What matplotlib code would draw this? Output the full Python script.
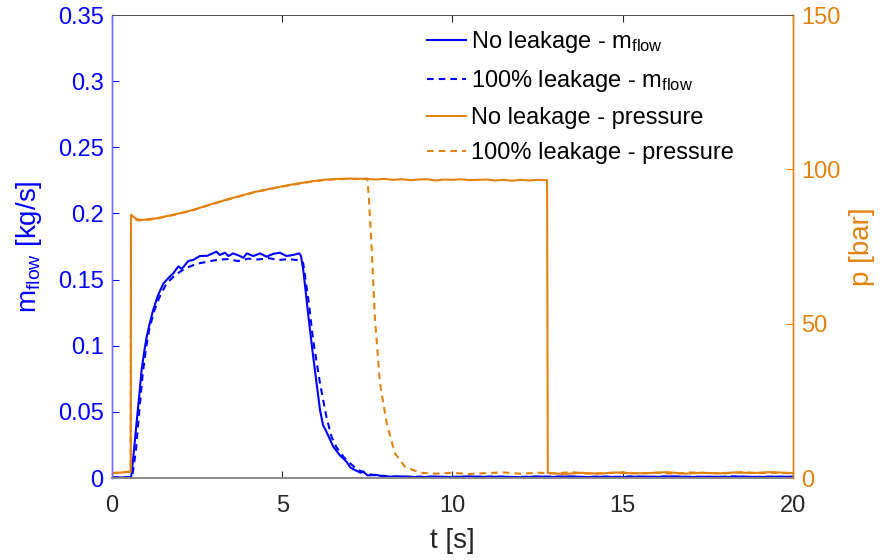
import matplotlib
matplotlib.use("Agg")
import matplotlib.pyplot as plt
from matplotlib.lines import Line2D

plt.rcParams['font.family'] = ['Liberation Sans', 'DejaVu Sans']
plt.rcParams['mathtext.fontset'] = 'custom'
plt.rcParams['mathtext.rm'] = 'Liberation Sans'
plt.rcParams['mathtext.it'] = 'Liberation Sans'

BLUE = '#0000ff'
ORANGE = '#e3820f'

# Mass flow, no leakage [s], [kg/s]
t_flow_ref = [0.0, 0.3, 0.56, 0.58, 0.65, 0.72, 0.8, 0.87, 0.95, 1.02, 1.1, 1.21, 1.35,
              1.51, 1.65, 1.8, 1.95, 2.05, 2.24, 2.4, 2.58, 2.8, 3.07, 3.17, 3.32, 3.42,
              3.56, 3.76, 3.86, 3.96, 4.15, 4.35, 4.54, 4.74, 4.93, 5.13, 5.32, 5.5,
              5.55, 5.62, 5.77, 5.91, 6.11, 6.2, 6.3, 6.5, 6.7, 6.89, 7.0, 7.14, 7.3,
              7.38, 7.5, 7.77, 8.0, 8.5, 9.0, 9.5, 10.0, 10.5, 11.0, 11.5, 12.0, 12.5,
              13.0, 13.5, 14.0, 14.5, 15.0, 15.5, 16.0, 16.5, 17.0, 17.5, 18.0, 18.5,
              19.0, 19.5, 20.0]
m_flow_ref = [0.0005, 0.0004, 0.0005, 0.004, 0.022, 0.041, 0.062, 0.0816, 0.096, 0.1068,
              0.116, 0.127, 0.138, 0.147, 0.151, 0.1547, 0.160, 0.158, 0.164, 0.165,
              0.1678, 0.168, 0.1711, 0.1686, 0.1703, 0.1678, 0.1698, 0.1678, 0.1665,
              0.1698, 0.1678, 0.1698, 0.1673, 0.1695, 0.1703, 0.1678, 0.1686, 0.1698,
              0.168, 0.157, 0.122, 0.0917, 0.0514, 0.040, 0.035, 0.0237, 0.017, 0.0123,
              0.008, 0.006, 0.004, 0.005, 0.002, 0.0023, 0.001, 0.0012, 0.0006, 0.0011,
              0.0007, 0.0012, 0.0008, 0.0010, 0.0006, 0.0011, 0.0008, 0.0012, 0.0007,
              0.0010, 0.0006, 0.0011, 0.0009, 0.0012, 0.0007, 0.0010, 0.0008, 0.0011,
              0.0007, 0.0010, 0.0009]

# Mass flow, 100% leakage
t_flow_leak = [0.0, 0.3, 0.58, 0.6, 0.7, 0.8, 0.9, 1.0, 1.1, 1.25, 1.4, 1.6, 1.8, 2.0,
               2.2, 2.5, 2.8, 3.1, 3.4, 3.7, 4.0, 4.3, 4.6, 4.9, 5.2, 5.5, 5.58, 5.62,
               5.77, 5.91, 6.11, 6.3, 6.45, 6.6, 6.8, 7.0, 7.2, 7.5, 7.8, 8.2, 8.7, 9.2,
               9.7, 10.2, 10.7, 11.2, 11.7, 12.2, 12.7, 13.2, 13.7, 14.2, 14.7, 15.2,
               15.7, 16.2, 16.7, 17.2, 17.7, 18.2, 18.7, 19.2, 19.7, 20.0]
m_flow_leak = [0.0005, 0.0005, 0.0006, 0.002, 0.020, 0.050, 0.078, 0.098, 0.113, 0.127,
               0.137, 0.147, 0.152, 0.156, 0.159, 0.162, 0.1635, 0.165, 0.1655, 0.164,
               0.1658, 0.1652, 0.1662, 0.1648, 0.1655, 0.1645, 0.164, 0.162, 0.1345,
               0.104, 0.0716, 0.046, 0.031, 0.023, 0.016, 0.011, 0.0065, 0.003, 0.002,
               0.0012, 0.0009, 0.0011, 0.0006, 0.0010, 0.0008, 0.0012, 0.0007, 0.0010,
               0.0009, 0.0011, 0.0006, 0.0010, 0.0008, 0.0012, 0.0007, 0.0011, 0.0009,
               0.0010, 0.0007, 0.0012, 0.0008, 0.0010, 0.0009, 0.0010]

# Pressure, no leakage [s], [bar]
t_p_ref = [0.0, 0.3, 0.55, 0.56, 0.6, 0.65, 0.75, 0.9, 1.1, 1.3, 1.5, 1.8, 2.0, 2.3,
           2.6, 3.0, 3.4, 3.8, 4.2, 4.6, 5.0, 5.4, 5.8, 6.2, 6.6, 7.0, 7.5, 7.75,
           8.0, 8.25, 8.5, 8.75, 9.0, 9.25, 9.5, 9.75, 10.0, 10.25, 10.5, 10.75, 11.0,
           11.25, 11.5, 11.75, 12.0, 12.25, 12.5, 12.78, 12.8, 13.3, 13.8, 14.3, 14.8,
           15.3, 15.8, 16.3, 16.8, 17.3, 17.8, 18.3, 18.8, 19.3, 19.8, 20.0]
p_ref = [1.5, 1.8, 2.0, 85.3, 84.9, 84.4, 83.8, 83.6, 83.9, 84.1, 84.6, 85.3, 85.8,
         86.6, 87.6, 89.0, 90.3, 91.5, 92.7, 93.6, 94.5, 95.3, 96.0, 96.6, 96.9, 97.0,
         96.9, 96.7, 96.9, 96.6, 96.8, 96.5, 96.7, 96.8, 96.4, 96.7, 96.6, 96.8, 96.5,
         96.6, 96.7, 96.4, 96.6, 96.3, 96.6, 96.4, 96.6, 96.5, 1.6, 1.3, 1.7, 1.4, 1.8,
         1.5, 1.6, 1.9, 1.4, 1.7, 1.5, 1.8, 1.6, 1.9, 1.7, 1.6]

# Pressure, 100% leakage
t_p_leak = [0.0, 0.3, 0.55, 0.56, 0.6, 0.65, 0.75, 0.9, 1.1, 1.3, 1.5, 1.8, 2.0, 2.3,
            2.6, 3.0, 3.4, 3.8, 4.2, 4.6, 5.0, 5.4, 5.8, 6.2, 6.6, 7.0, 7.3, 7.5, 7.55,
            7.63, 7.72, 7.87, 8.07, 8.31, 8.6, 9.05, 9.5, 10.0, 10.5, 11.0, 11.5, 12.0,
            12.5, 13.0, 13.5, 14.0, 14.5, 15.0, 15.5, 16.0, 16.5, 17.0, 17.5, 18.0,
            18.5, 19.0, 19.5, 20.0]
p_leak = [1.6, 1.9, 2.1, 85.0, 84.6, 84.1, 83.5, 83.4, 83.7, 84.0, 84.5, 85.2, 85.7,
          86.5, 87.5, 88.9, 90.2, 91.4, 92.6, 93.5, 94.4, 95.2, 95.9, 96.5, 96.8, 96.9,
          96.8, 97.0, 90.0, 73.9, 52.3, 30.7, 17.7, 8.0, 3.7, 1.7, 1.4, 1.7, 1.3, 1.6,
          1.8, 1.4, 1.7, 1.5, 1.9, 1.4, 1.6, 1.8, 1.5, 1.7, 1.4, 1.8, 1.6, 1.5, 1.9,
          1.6, 1.7, 1.5]

x_ticks = [0, 5, 10, 15, 20]
m_ticks = [0, 0.05, 0.1, 0.15, 0.2, 0.25, 0.3, 0.35]
m_tick_labels = ['0', '0.05', '0.1', '0.15', '0.2', '0.25', '0.3', '0.35']
p_ticks = [0, 50, 100, 150]

FS = 17
LFS = 20
fig = plt.figure(figsize=(8.83, 5.6), dpi=100)
ax = fig.add_axes([0.1268, 0.1464, 0.898 - 0.1268, 0.9732 - 0.1464])
ax2 = ax.twinx()

dash = (3.2, 2.4)
ax.plot(t_flow_ref, m_flow_ref, color=BLUE, lw=1.5)
ax.plot(t_flow_leak, m_flow_leak, color=BLUE, lw=1.5, ls=(0, dash))
ax2.plot(t_p_ref, p_ref, color=ORANGE, lw=1.5)
ax2.plot(t_p_leak, p_leak, color=ORANGE, lw=1.5, ls=(0, dash))

ax.set_xlim(0, 20)
ax.set_ylim(0, 0.35)
ax2.set_ylim(0, 150)
ax.set_xticks(x_ticks)
ax.set_yticks(m_ticks)
ax.set_yticklabels(m_tick_labels)
ax2.set_yticks(p_ticks)

ax.tick_params(axis='x', direction='in', length=5, width=0.8, colors='#262626',
               labelsize=FS, top=True, pad=12)
ax.tick_params(axis='y', direction='in', length=5, width=0.8, colors=BLUE,
               labelsize=FS, pad=6)
ax2.tick_params(axis='y', direction='in', length=5, width=0.8, colors=ORANGE,
                labelsize=FS, pad=6)

for a in (ax, ax2):
    a.spines['bottom'].set_color('#8a8a8a')
    a.spines['bottom'].set_linewidth(1.2)
    a.spines['top'].set_color('#555555')
    a.spines['top'].set_linewidth(0.7)
    a.spines['left'].set_color('#7070ff')
    a.spines['right'].set_color(ORANGE)
    a.spines['left'].set_linewidth(1.0)
    a.spines['right'].set_linewidth(1.0)

ax.set_xlabel('t [s]', fontsize=LFS, color='#262626', labelpad=8)
ax.set_ylabel(r'm$_{\mathrm{flow}}$ [kg/s]', fontsize=LFS, color=BLUE, labelpad=10)
ax2.set_ylabel('p [bar]', fontsize=LFS, color=ORANGE, labelpad=6)

handles = [
    Line2D([], [], color=BLUE, lw=1.5),
    Line2D([], [], color=BLUE, lw=1.5, ls=(0, dash)),
    Line2D([], [], color=ORANGE, lw=1.5),
    Line2D([], [], color=ORANGE, lw=1.5, ls=(0, dash)),
]
labels = [r'No leakage - m$_{\mathrm{flow}}$',
          r'100% leakage - m$_{\mathrm{flow}}$',
          'No leakage - pressure',
          '100% leakage - pressure']
leg = ax2.legend(handles, labels, loc='upper left',
                 bbox_to_anchor=(427 / 883, 1 - 29 / 560),
                 bbox_transform=fig.transFigure, frameon=False, fontsize=FS,
                 handlelength=1.65, handletextpad=0.2, labelspacing=0.55,
                 borderpad=0, borderaxespad=0)

fig.savefig('out.png', dpi=100)
